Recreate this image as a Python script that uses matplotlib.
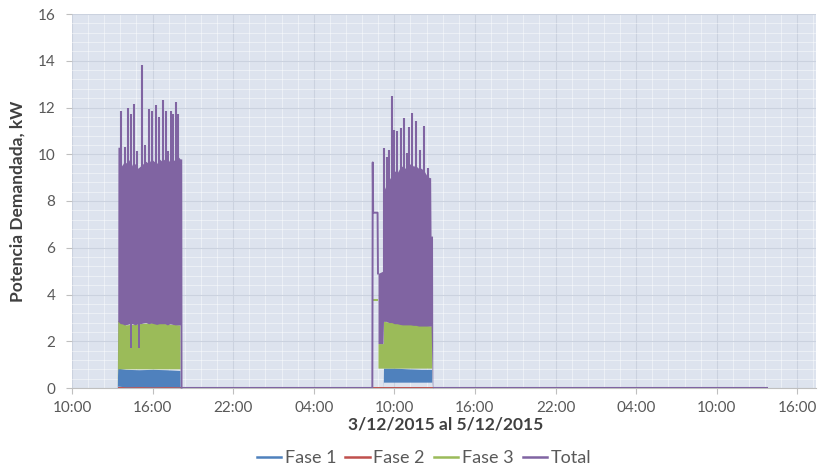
import matplotlib
matplotlib.use("Agg")
import matplotlib.pyplot as plt
from matplotlib.ticker import MultipleLocator, FixedLocator, FuncFormatter
from matplotlib.lines import Line2D
from datetime import datetime, timedelta

# ---------------- data (hours after 3/12/2015 10:00) ----------------
START = datetime(2015, 12, 3, 10, 0)

series_names = ["Fase 1", "Fase 2", "Fase 3", "Total"]
series_colors = ["#4f81bd", "#c0504d", "#9bbb59", "#8064a2"]

record_start_h = 3.40
record_end_h = 51.80

# --- Burst 1 (afternoon 3/12) ---
b1_total_t  = [3.40, 3.42, 3.60, 3.70, 3.90, 4.10, 4.30, 4.50, 4.70, 4.90, 5.10, 5.30, 5.50, 5.70, 5.90,
               6.10, 6.30, 6.50, 6.70, 6.90, 7.10, 7.30, 7.50, 7.70, 7.90, 8.05, 8.06, 8.17, 8.19]
b1_total_hi = [0.00, 10.3, 10.3, 9.50, 9.70, 9.60, 9.80, 9.50, 9.60, 9.40, 9.50, 9.60, 9.70, 9.60, 9.80,
               9.70, 9.60, 9.80, 9.70, 9.80, 9.60, 9.80, 9.70, 9.80, 9.90, 9.80, 9.80, 9.80, 0.00]
b1_total_lo = [0.00, 2.85, 2.75, 2.75, 2.70, 2.72, 2.75, 2.75, 2.70, 2.75, 2.75, 2.78, 2.80, 2.75, 2.78,
               2.75, 2.72, 2.75, 2.75, 2.75, 2.70, 2.75, 2.72, 2.70, 2.70, 2.70, 0.00, 0.00, 0.00]
b1_spike_t  = [3.63, 3.95, 4.19, 4.39, 4.62, 4.82, 5.19, 5.43, 5.75, 5.93, 6.23, 6.50, 6.75, 6.98, 7.17, 7.37, 7.50, 7.72, 7.87]
b1_spike_v  = [11.86, 10.33, 11.98, 11.72, 12.15, 10.12, 13.83, 10.40, 11.95, 11.83, 12.12, 11.58, 12.33, 11.86, 10.12, 11.86, 11.72, 12.22, 11.72]
b1_dip_t    = [4.37, 4.99]
b1_dip_v    = [1.70, 1.70]

b1_f3_t  = [3.37, 3.40, 3.60, 4.00, 5.00, 6.00, 7.00, 8.00, 8.04, 8.05]
b1_f3_hi = [0.00, 2.90, 2.80, 2.70, 2.75, 2.80, 2.75, 2.70, 2.70, 0.00]
b1_f3_lo = [0.00, 0.82, 0.82, 0.82, 0.82, 0.82, 0.82, 0.82, 0.82, 0.00]

b1_f1_t  = [3.37, 3.40, 4.00, 5.00, 6.00, 7.00, 8.00, 8.04, 8.05]
b1_f1_hi = [0.00, 0.85, 0.80, 0.78, 0.80, 0.78, 0.75, 0.75, 0.00]
b1_f1_lo = [0.00, 0.08, 0.05, 0.06, 0.05, 0.06, 0.05, 0.05, 0.00]

# --- Burst 2 (morning 4/12) ---
b2_gap_t = [22.36, 22.39, 22.42, 22.75, 22.78]
b2_gap_v = [0.00, 9.65, 7.50, 7.50, 4.90]

b2_total_t  = [22.78, 23.15, 23.19, 23.40, 23.60, 23.80, 24.00, 24.20, 24.40, 24.60, 24.80, 25.00, 25.20,
               25.40, 25.60, 25.80, 26.00, 26.20, 26.40, 26.60, 26.70, 26.73, 26.84, 26.86]
b2_total_hi = [4.90, 5.00, 8.40, 8.70, 8.90, 9.10, 9.30, 9.20, 9.40, 9.50, 9.40, 9.50, 9.60,
               9.50, 9.50, 9.40, 9.40, 9.30, 9.10, 9.00, 9.00, 6.50, 6.50, 0.00]
b2_total_lo = [1.90, 1.90, 2.85, 2.85, 2.80, 2.80, 2.75, 2.75, 2.72, 2.70, 2.70, 2.70, 2.70,
               2.68, 2.68, 2.65, 2.65, 2.65, 2.65, 2.65, 2.65, 2.65, 0.00, 0.00]
b2_spike_t  = [23.25, 23.43, 23.60, 23.80, 23.99, 24.17, 24.47, 24.74, 24.95, 25.11, 25.33, 25.59, 25.91, 26.23, 26.52]
b2_spike_v  = [10.26, 9.90, 10.19, 12.48, 11.05, 10.98, 11.12, 11.55, 10.05, 11.15, 11.76, 11.41, 10.19, 11.19, 9.41]

b2_f3_dash_t = [22.42, 22.68]
b2_f3_dash_v = [3.77, 3.77]
b2_f3_t  = [22.78, 23.15, 23.17, 23.19, 24.00, 25.00, 26.00, 26.78, 26.80]
b2_f3_hi = [1.90, 1.90, 1.90, 2.85, 2.80, 2.75, 2.70, 2.65, 0.00]
b2_f3_lo = [0.85, 0.85, 0.85, 0.85, 0.85, 0.85, 0.85, 0.85, 0.00]

b2_f1_t  = [23.17, 23.19, 24.00, 25.00, 26.00, 26.78, 26.80]
b2_f1_hi = [0.00, 0.85, 0.85, 0.82, 0.80, 0.80, 0.00]
b2_f1_lo = [0.00, 0.25, 0.25, 0.25, 0.25, 0.25, 0.00]

total_zero_segments = [(8.17, 22.36), (26.86, 51.80)]

y_ticks = [0, 2, 4, 6, 8, 10, 12, 14, 16]
x_major_step_h = 6.0
x_minor_step_h = 1.2
y_minor_step = 0.4
x_lim_h = (0.0, 55.39)

xlabel = "3/12/2015 al 5/12/2015"
ylabel = "Potencia Demandada, kW"

# ---------------- plotting ----------------
plt.rcParams["font.family"] = ["Lato", "DejaVu Sans"]

fig = plt.figure(figsize=(8.22, 4.68), dpi=100)
ax = fig.add_axes([72/822, 1-388/468, (816-72)/822, (388-14)/468])
ax.set_facecolor("#dde3ee")

c1, c2, c3, ct = series_colors

# zero lines (Fase 1, Fase 2 underneath)
ax.plot([record_start_h, record_end_h], [0, 0], color=c1, lw=1.4, zorder=2, solid_capstyle="butt")
ax.plot([record_start_h, record_end_h], [0, 0], color=c2, lw=1.4, zorder=2.1, solid_capstyle="butt")

# Fase 1 bands
for t, lo, hi in [(b1_f1_t, b1_f1_lo, b1_f1_hi), (b2_f1_t, b2_f1_lo, b2_f1_hi)]:
    ax.fill_between(t, lo, hi, color=c1, lw=0, zorder=3)

# Fase 3 bands
for t, lo, hi in [(b1_f3_t, b1_f3_lo, b1_f3_hi), (b2_f3_t, b2_f3_lo, b2_f3_hi)]:
    ax.fill_between(t, lo, hi, color=c3, lw=0, zorder=4)
ax.plot(b2_f3_dash_t, b2_f3_dash_v, color=c3, lw=1.4, zorder=4)

# Total
for t, lo, hi in [(b1_total_t, b1_total_lo, b1_total_hi), (b2_total_t, b2_total_lo, b2_total_hi)]:
    ax.fill_between(t, lo, hi, color=ct, lw=0, zorder=5)
ax.vlines(b1_spike_t, 3.0, b1_spike_v, color=ct, lw=1.5, zorder=5)
ax.vlines(b2_spike_t, 3.0, b2_spike_v, color=ct, lw=1.5, zorder=5)
ax.vlines(b1_dip_t, b1_dip_v, 2.9, color=ct, lw=1.4, zorder=5)
ax.plot(b2_gap_t, b2_gap_v, color=ct, lw=1.4, zorder=5)
for a, b in total_zero_segments:
    ax.plot([a, b], [0, 0], color=ct, lw=1.5, zorder=5, solid_capstyle="butt")

# axes formatting
ax.set_xlim(*x_lim_h)
ax.set_ylim(0, 16)
ax.xaxis.set_major_locator(MultipleLocator(x_major_step_h))
ax.xaxis.set_minor_locator(MultipleLocator(x_minor_step_h))
ax.yaxis.set_major_locator(FixedLocator(y_ticks))
ax.yaxis.set_minor_locator(MultipleLocator(y_minor_step))
ax.xaxis.set_major_formatter(FuncFormatter(lambda h, p: (START + timedelta(hours=h)).strftime("%H:%M")))

ax.grid(which="minor", color="white", lw=0.7, alpha=0.45, zorder=0)
ax.grid(which="major", color="#cbd2df", lw=0.8, zorder=0.5)
ax.set_axisbelow(True)

for s in ["top", "right", "left"]:
    ax.spines[s].set_visible(False)
ax.spines["bottom"].set_color("#bfbfbf")
ax.tick_params(axis="both", which="minor", length=0)
ax.tick_params(axis="x", which="major", length=4, color="#bfbfbf", labelsize=11, labelcolor="#595959", pad=5)
ax.tick_params(axis="y", which="major", length=4, color="#bfbfbf", labelsize=11, labelcolor="#595959", pad=8)

ax.set_ylabel(ylabel, fontsize=12.5, fontweight="bold", color="#404040")
ax.yaxis.set_label_coords((26-72)/744, 0.5)
ax.set_xlabel(xlabel, fontsize=12.5, fontweight="bold", color="#404040")
ax.xaxis.set_label_coords((446-72)/744, (388-417)/374)

handles = [Line2D([], [], color=c, lw=1.8) for c in series_colors]
fig.legend(handles, series_names, loc="center", bbox_to_anchor=(424/822, 1-458/468),
           ncol=4, frameon=False, fontsize=13, labelcolor="#595959",
           handlelength=1.35, handletextpad=0.2, columnspacing=0.5)

fig.savefig("out.png", dpi=100)
